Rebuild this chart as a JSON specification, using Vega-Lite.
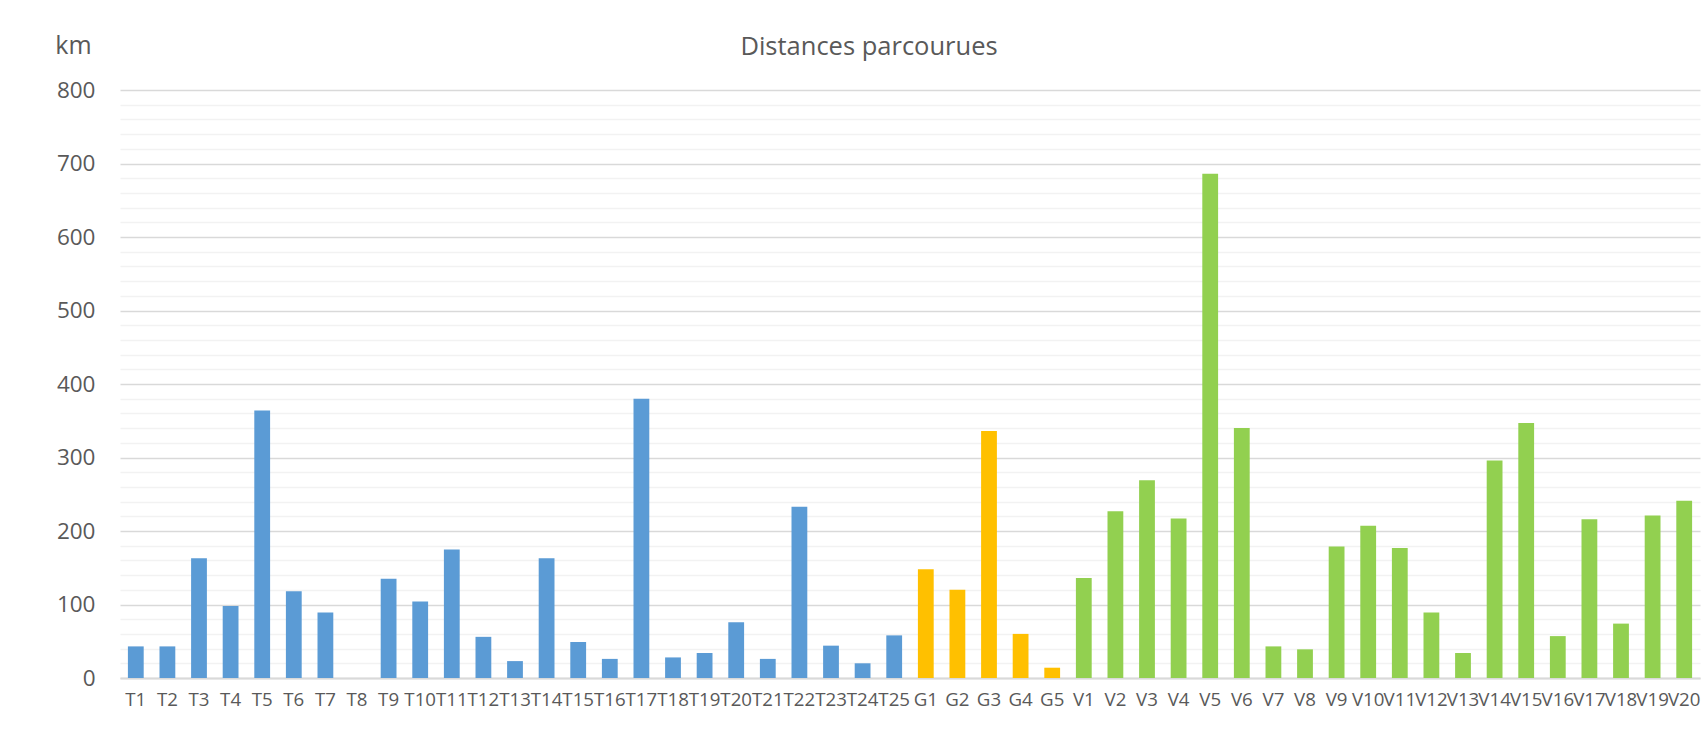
{
  "$schema": "https://vega.github.io/schema/vega-lite/v6.json",
  "autosize": {"type": "none"},
  "padding": {"left": 120, "top": 90, "right": 3, "bottom": 58},
  "width": 1580,
  "height": 588,
  "background": "white",
  "title": {
    "text": "Distances parcourues",
    "anchor": "middle",
    "frame": "group",
    "font": "Open Sans",
    "fontSize": 25.5,
    "fontWeight": "normal",
    "color": "#595959",
    "dx": -41,
    "dy": 31
  },
  "data": {
    "values": [
      {"name": "T1", "group": "T", "km": 43},
      {"name": "T2", "group": "T", "km": 43},
      {"name": "T3", "group": "T", "km": 163},
      {"name": "T4", "group": "T", "km": 98},
      {"name": "T5", "group": "T", "km": 364},
      {"name": "T6", "group": "T", "km": 118},
      {"name": "T7", "group": "T", "km": 89},
      {"name": "T8", "group": "T", "km": 0},
      {"name": "T9", "group": "T", "km": 135},
      {"name": "T10", "group": "T", "km": 104},
      {"name": "T11", "group": "T", "km": 175},
      {"name": "T12", "group": "T", "km": 56},
      {"name": "T13", "group": "T", "km": 23},
      {"name": "T14", "group": "T", "km": 163},
      {"name": "T15", "group": "T", "km": 49},
      {"name": "T16", "group": "T", "km": 26},
      {"name": "T17", "group": "T", "km": 380},
      {"name": "T18", "group": "T", "km": 28},
      {"name": "T19", "group": "T", "km": 34},
      {"name": "T20", "group": "T", "km": 76},
      {"name": "T21", "group": "T", "km": 26},
      {"name": "T22", "group": "T", "km": 233},
      {"name": "T23", "group": "T", "km": 44},
      {"name": "T24", "group": "T", "km": 20},
      {"name": "T25", "group": "T", "km": 58},
      {"name": "G1", "group": "G", "km": 148},
      {"name": "G2", "group": "G", "km": 120},
      {"name": "G3", "group": "G", "km": 336},
      {"name": "G4", "group": "G", "km": 60},
      {"name": "G5", "group": "G", "km": 14},
      {"name": "V1", "group": "V", "km": 136},
      {"name": "V2", "group": "V", "km": 227},
      {"name": "V3", "group": "V", "km": 269},
      {"name": "V4", "group": "V", "km": 217},
      {"name": "V5", "group": "V", "km": 686},
      {"name": "V6", "group": "V", "km": 340},
      {"name": "V7", "group": "V", "km": 43},
      {"name": "V8", "group": "V", "km": 39},
      {"name": "V9", "group": "V", "km": 179},
      {"name": "V10", "group": "V", "km": 207},
      {"name": "V11", "group": "V", "km": 177},
      {"name": "V12", "group": "V", "km": 89},
      {"name": "V13", "group": "V", "km": 34},
      {"name": "V14", "group": "V", "km": 296},
      {"name": "V15", "group": "V", "km": 347},
      {"name": "V16", "group": "V", "km": 57},
      {"name": "V17", "group": "V", "km": 216},
      {"name": "V18", "group": "V", "km": 74},
      {"name": "V19", "group": "V", "km": 221},
      {"name": "V20", "group": "V", "km": 241}
    ]
  },
  "mark": {"type": "bar"},
  "encoding": {
    "x": {
      "field": "name",
      "type": "nominal",
      "sort": null,
      "scale": {"paddingInner": 0.5, "paddingOuter": 0.25},
      "axis": {
        "title": null,
        "labelAngle": 0,
        "labelOverlap": false,
        "labelFont": "Open Sans",
        "labelFontSize": 18.7,
        "labelColor": "#595959",
        "labelPadding": 12,
        "ticks": false,
        "domainColor": "#D9D9D9",
        "domainWidth": 2,
        "grid": false
      }
    },
    "y": {
      "field": "km",
      "type": "quantitative",
      "scale": {"domain": [0, 800], "nice": false},
      "axis": {
        "values": [0, 20, 40, 60, 80, 100, 120, 140, 160, 180, 200, 220, 240, 260, 280, 300, 320, 340, 360, 380, 400, 420, 440, 460, 480, 500, 520, 540, 560, 580, 600, 620, 640, 660, 680, 700, 720, 740, 760, 780, 800],
        "labelExpr": "datum.value % 100 === 0 ? datum.label : ''",
        "labelFont": "Open Sans",
        "labelFontSize": 22.5,
        "labelColor": "#595959",
        "labelPadding": 25,
        "ticks": false,
        "domain": false,
        "grid": true,
        "gridColor": {"condition": {"test": "datum.value % 100 === 0", "value": "#D9D9D9"}, "value": "#F2F2F2"},
        "gridWidth": 1.6,
        "title": "km",
        "titleFont": "Open Sans",
        "titleFontSize": 25,
        "titleFontWeight": "normal",
        "titleColor": "#595959",
        "titleAngle": 0,
        "titleAlign": "center",
        "titleBaseline": "alphabetic",
        "titleX": -47,
        "titleY": -37
      }
    },
    "color": {
      "field": "group",
      "type": "nominal",
      "scale": {"domain": ["T", "G", "V"], "range": ["#5B9BD5", "#FFC000", "#92D050"]},
      "legend": null
    }
  },
  "config": {
    "view": {"stroke": null}
  }
}
